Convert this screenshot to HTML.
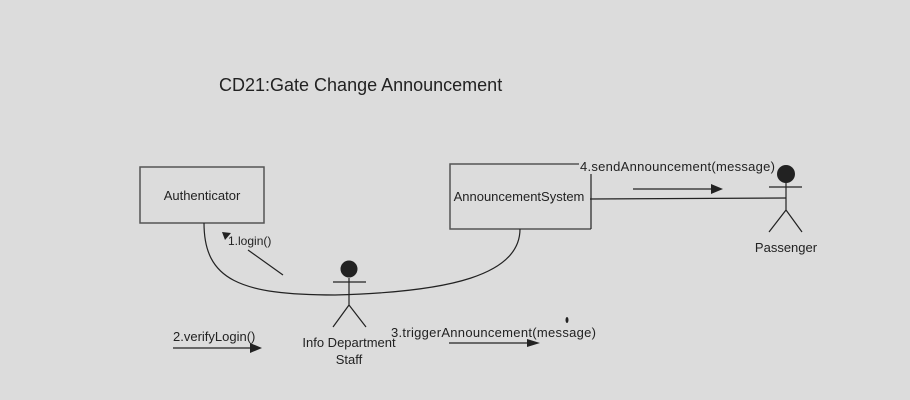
<!DOCTYPE html>
<html><head><style>body{margin:0;background:#dcdcdc}svg{display:block}text{font-family:"Liberation Sans",sans-serif;fill:#222}</style></head><body>
<svg width="910" height="400" viewBox="0 0 910 400">
<rect width="910" height="400" fill="#dcdcdc"/>
<text x="219" y="91" font-size="18">CD21:Gate Change Announcement</text>
<g fill="none" stroke="#555" stroke-width="1.5">
<rect x="140" y="167" width="124" height="56"/>
<path d="M579,164 L450,164 L450,229 L591,229"/>
</g>
<text x="202" y="200" font-size="13" text-anchor="middle">Authenticator</text>
<text x="519" y="201" font-size="13" text-anchor="middle">AnnouncementSystem</text>
<g fill="none" stroke="#222" stroke-width="1.2">
<path d="M204,223 C204,280 240,295 335,295 C450,292 520,275 520,229"/>
<path d="M590,199 L786,198"/>
<path d="M591,174 L591,229"/>
<path d="M248,250 L283,275"/>
<path d="M173,348 L252,348"/>
<path d="M449,343 L528,343"/>
<path d="M633,189 L712,189"/>
<path d="M333,282 L366,282 M349,278 L349,305 L333,327 M349,305 L366,327"/>
<path d="M769,187 L802,187 M786,182 L786,210 L769,232 M786,210 L802,232"/>
</g>
<circle cx="349" cy="269" r="8.5" fill="#222"/>
<circle cx="786" cy="174" r="9" fill="#222"/>
<g fill="#222">
<polygon points="222,232 231,233 225,240"/>
<polygon points="250,343 262,348 250,353"/>
<polygon points="527,339 540,343 527,347"/>
<polygon points="711,184 723,189 711,194"/>
<ellipse cx="567" cy="320" rx="1.5" ry="3"/>
</g>
<text x="228" y="245" font-size="12">1.login()</text>
<text x="173" y="341" font-size="13">2.verifyLogin()</text>
<text x="391" y="337" font-size="13" textLength="205">3.triggerAnnouncement(message)</text>
<text x="580" y="171" font-size="13" textLength="195">4.sendAnnouncement(message)</text>
<text x="349" y="347" font-size="13" text-anchor="middle">Info Department</text>
<text x="349" y="364" font-size="13" text-anchor="middle">Staff</text>
<text x="786" y="252" font-size="13" text-anchor="middle">Passenger</text>
</svg>
</body></html>
